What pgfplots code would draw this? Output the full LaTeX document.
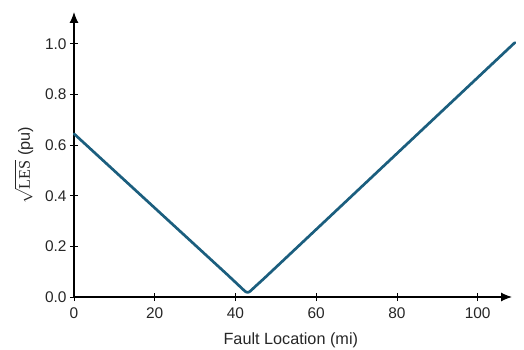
\documentclass[border=0pt]{standalone}
\usepackage{pgfplots}
\pgfplotsset{compat=1.18}
\usetikzlibrary{arrows.meta}
\usepackage{fontspec}
\setmainfont{Liberation Sans}
\newfontfamily\seriffont{Liberation Serif}
\definecolor{lc}{RGB}{27,94,126}
\begin{document}
\begin{tikzpicture}
\useasboundingbox (-74bp,-53bp) rectangle (450bp,297bp);
\begin{axis}[
  scale only axis,
  width=438bp, height=285bp,
  xmin=0, xmax=108.5, ymin=0, ymax=1.126,
  axis lines=left,
  axis line style={line width=1.1pt, -{Latex[length=11bp,width=9bp]}},
  every tick/.style={black, line width=0.9pt},
  major tick length=8bp,
  tick align=center,
  xtick={0,20,40,60,80,100},
  ytick={0,0.2,0.4,0.6,0.8,1.0},
  yticklabel style={/pgf/number format/.cd, fixed, fixed zerofill, precision=1},
  /pgf/number format/assume math mode=true,
  tick label style={font=\fontsize{15.5}{18}\selectfont, text=black!85},
  xticklabel style={yshift=-3bp},
  label style={font=\fontsize{16.3}{19}\selectfont, text=black!85},
  xlabel={Fault Location (mi)},
  ylabel={$\sqrt{\hbox{\seriffont LES}}$ (pu)},
  xlabel style={at={(axis description cs:0.495,-0.151)}, anchor=center},
  ylabel style={at={(axis description cs:-0.114,0.463)}, anchor=center, inner sep=0pt},
  clip=false,
]
\addplot[color=lc, line width=2.7pt, line join=round, line cap=round] coordinates {
(0,0.645) (38,0.088) (40,0.058) (41,0.043) (42,0.028) (42.5,0.021) (43,0.018) (43.5,0.021) (44,0.028) (45,0.043) (47,0.072) (109.2,1.005)
};
\end{axis}
\end{tikzpicture}
\end{document}
